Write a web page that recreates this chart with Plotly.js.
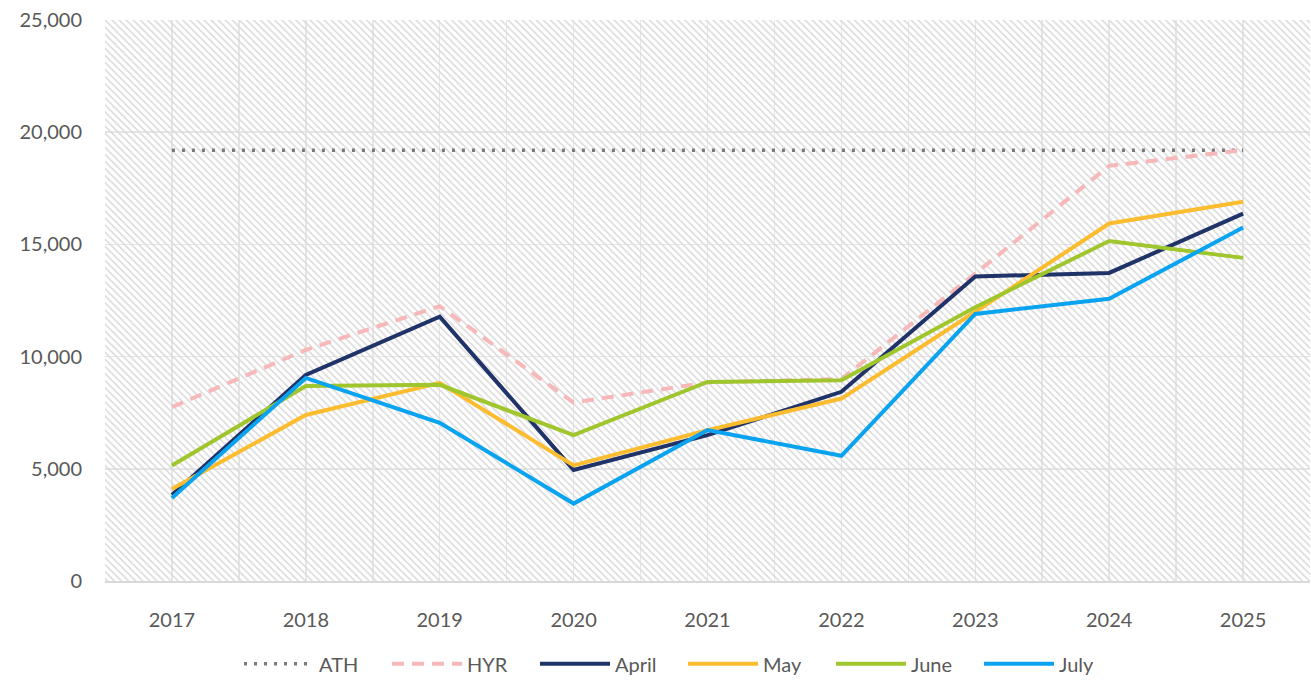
<!DOCTYPE html>
<html>
<head>
<meta charset="utf-8">
<script src="https://cdn.plot.ly/plotly-3.0.1.min.js"></script>
<style>html,body{margin:0;padding:0;background:#fff;}#chart{width:1311px;height:685px;}</style>
</head>
<body>
<div id="chart"></div>
<script>
const years = [2017, 2018, 2019, 2020, 2021, 2022, 2023, 2024, 2025];
const ath   = [19200, 19200, 19200, 19200, 19200, 19200, 19200, 19200, 19200];
const hyr   = [7750, 10300, 12250, 7950, 8850, 9000, 13700, 18500, 19200];
const april = [3830, 9180, 11780, 4950, 6500, 8430, 13570, 13730, 16370];
const may   = [4100, 7400, 8830, 5150, 6720, 8130, 12000, 15930, 16900];
const june  = [5150, 8690, 8740, 6500, 8870, 8950, 12200, 15150, 14400];
const july  = [3700, 9050, 7050, 3450, 6730, 5580, 11900, 12580, 15750];
const yTicks = [0, 5000, 10000, 15000, 20000, 25000];
const yTickText = ['0', '5,000', '10,000', '15,000', '20,000', '25,000'];

const yMin = 0, yMax = 25000;
const xMin = years[0] - 0.5, xMax = years[years.length - 1] + 0.5;

const FONT = 'Lato, "Open Sans", sans-serif';
const FS = 20;

const traces = [
  {
    x: [xMin, xMax, xMax, xMin, xMin],
    y: [yMin, yMin, yMax, yMax, yMin],
    type: 'scatter', mode: 'lines', fill: 'toself',
    fillcolor: 'rgba(0,0,0,0)',
    fillpattern: {shape: '\\', fgcolor: '#d9d9d9', bgcolor: 'rgba(0,0,0,0)', size: 5, solidity: 0.3},
    line: {width: 0}, showlegend: false, hoverinfo: 'skip'
  },
  {name: 'ATH', x: years, y: ath, type: 'scatter', mode: 'lines',
   line: {color: '#7a7a7a', width: 3.5, dash: '3px,7px'}},
  {name: 'HYR', x: years, y: hyr, type: 'scatter', mode: 'lines',
   line: {color: '#f6b8b8', width: 4, dash: '12px,8px'}},
  {name: 'April', x: years, y: april, type: 'scatter', mode: 'lines',
   line: {color: '#1f3368', width: 4}},
  {name: 'May', x: years, y: may, type: 'scatter', mode: 'lines',
   line: {color: '#fbbd2f', width: 4}},
  {name: 'June', x: years, y: june, type: 'scatter', mode: 'lines',
   line: {color: '#a0c62e', width: 4}},
  {name: 'July', x: years, y: july, type: 'scatter', mode: 'lines',
   line: {color: '#0aa3ef', width: 4}}
];

const layout = {
  width: 1311, height: 685,
  margin: {l: 105, r: 1, t: 20, b: 104},
  paper_bgcolor: '#ffffff', plot_bgcolor: '#ffffff',
  font: {family: FONT, size: FS, color: '#595959'},
  showlegend: true,
  legend: {
    orientation: 'h', xref: 'container', yref: 'container',
    x: 0.521, xanchor: 'center', y: 0.031, yanchor: 'middle',
    font: {family: FONT, size: FS, color: '#595959'},
    itemwidth: 70, entrywidth: 63, entrywidthmode: 'pixels',
    traceorder: 'normal'
  },
  xaxis: {
    type: 'linear', range: [xMin, xMax],
    tickmode: 'array', tickvals: years, ticktext: years.map(String),
    showgrid: true, gridcolor: '#e6e6e6', gridwidth: 1.5,
    minor: {dtick: 0.5, tick0: xMin, showgrid: true, gridcolor: '#e6e6e6', gridwidth: 1.5},
    zeroline: false, showline: true, linecolor: '#d9d9d9', linewidth: 1.5,
    ticks: '', ticklen: 0, fixedrange: true, ticklabelstandoff: 20,
    tickfont: {family: FONT, size: FS, color: '#595959'}
  },
  yaxis: {
    range: [yMin, yMax], tickmode: 'array', tickvals: yTicks, ticktext: yTickText,
    showgrid: true, gridcolor: '#e6e6e6', gridwidth: 1.5,
    zeroline: false, showline: false, ticks: '', fixedrange: true,
    ticklabelstandoff: 22,
    tickfont: {family: FONT, size: FS, color: '#595959'}
  }
};

Plotly.newPlot('chart', traces, layout, {displayModeBar: false, staticPlot: true});
</script>
</body>
</html>
